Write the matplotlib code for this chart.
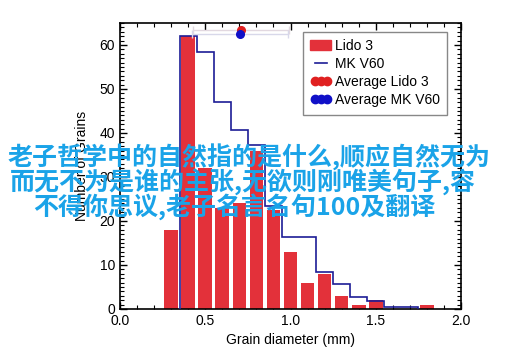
import matplotlib
matplotlib.use('Agg')
import matplotlib.pyplot as plt
from matplotlib.patches import Patch
from matplotlib.lines import Line2D
from matplotlib.ticker import MultipleLocator

plt.rcParams['font.family'] = ['Liberation Sans', 'DejaVu Sans']

# Lido 3 histogram (bar centres, counts)
lido_centers = [0.3, 0.4, 0.5, 0.6, 0.7, 0.8, 0.9, 1.0, 1.1, 1.2, 1.3, 1.4, 1.5, 1.6, 1.7, 1.8]
lido_counts = [18, 62, 32, 23, 24, 36, 22.5, 13, 6, 8, 3, 1, 2, 0, 0, 1]

# MK V60 histogram (bin edges, counts)
mk_edges = [0.35, 0.45, 0.55, 0.65, 0.75, 0.85, 0.95, 1.05, 1.15, 1.25, 1.35, 1.45, 1.55, 1.65, 1.75]
mk_counts = [62, 58.5, 47, 40.7, 37.3, 23.3, 16.4, 16.4, 8.3, 5.7, 2.8, 1.9, 0.5, 0.5]

# averages with spread
avg_lido = (0.71, 63.4)
avg_mk = (0.705, 62.6)
avg_spread = 0.28

overlay_lines = ['老子哲学中的自然指的是什么,顺应自然无为',
                 '而无不为是谁的主张,无欲则刚唯美句子,容',
                 '不得你思议,老子名言名句100及翻译']

red = '#e3313a'
navy = '#1c1c96'

fig = plt.figure(figsize=(5.15, 3.59), dpi=100)
ax = fig.add_axes([120/515, 50/359, 341/515, 286/359])

ax.bar(lido_centers, lido_counts, width=0.08, color=red, zorder=2)
ax.stairs(mk_counts, mk_edges, color=navy, linewidth=1.2, zorder=3)

ax.errorbar(avg_lido[0], avg_lido[1], xerr=avg_spread, fmt='none', ecolor='#e2d8e0',
            elinewidth=1, capsize=3, zorder=3)
ax.errorbar(avg_mk[0], avg_mk[1], xerr=avg_spread, fmt='none', ecolor='#d8d8ea',
            elinewidth=1, capsize=3, zorder=3)
ax.plot(avg_lido[0], avg_lido[1], 'o', color='#e02020', markersize=5.5, zorder=4)
ax.plot(avg_mk[0], avg_mk[1], 'o', color='#1010c8', markersize=5.5, zorder=5)

ax.set_xlim(0, 2.0)
ax.set_ylim(0, 65)
ax.xaxis.set_major_locator(MultipleLocator(0.5))
ax.xaxis.set_minor_locator(MultipleLocator(0.1))
ax.yaxis.set_major_locator(MultipleLocator(10))
ax.yaxis.set_minor_locator(MultipleLocator(1))
ax.tick_params(which='both', direction='in', top=True, right=True, labelsize=10)
ax.tick_params(which='major', length=5, width=1)
ax.tick_params(which='minor', length=3, width=0.8)
for s in ax.spines.values():
    s.set_linewidth(1.2)

ax.set_xlabel('Grain diameter (mm)', fontsize=10)
ax.set_ylabel('Number of Grains', fontsize=10)
ax.yaxis.set_label_coords(-0.09, 0.5)

handles = [Patch(facecolor=red, edgecolor=red),
           Line2D([], [], color=navy, linewidth=1.2),
           Line2D([], [], color='#e02020', marker='o', linestyle='none', markersize=6),
           Line2D([], [], color='#1010c8', marker='o', linestyle='none', markersize=6)]
labels = ['Lido 3', 'MK V60', 'Average Lido 3', 'Average MK V60']
leg = ax.legend(handles, labels, loc='upper right', bbox_to_anchor=(0.96, 0.97),
                fontsize=10, numpoints=3, fancybox=False, edgecolor='#888888',
                framealpha=1, handlelength=1.5, handletextpad=0.25, labelspacing=0.28,
                borderpad=0.55, borderaxespad=0)
leg.get_frame().set_linewidth(1)

for i, line in enumerate(overlay_lines):
    x = [8, 10, 33][i]
    y = [157, 182, 207][i]
    fig.text(x/515, 1 - y/359, line, ha='left', va='center', fontsize=18,
             fontweight='bold', color='#1aa3e8',
             family=['Noto Sans CJK SC', 'DejaVu Sans'])

fig.savefig('out.png', dpi=100)
